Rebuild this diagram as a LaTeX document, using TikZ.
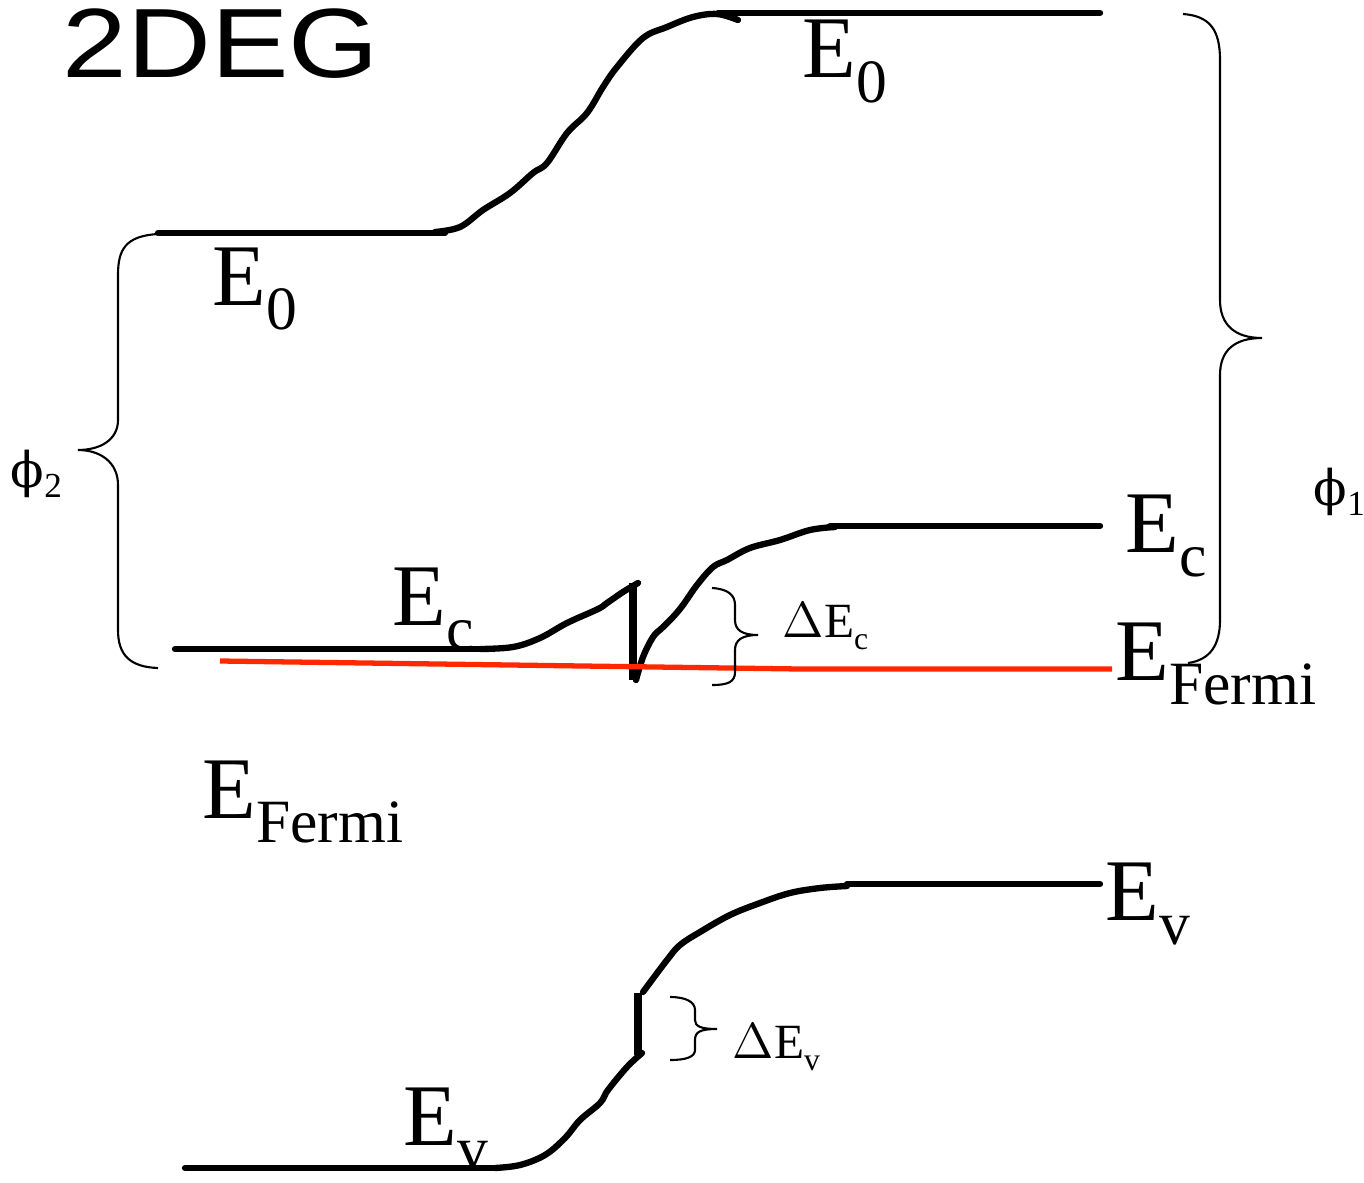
\documentclass[tikz,border=0pt]{standalone}
\usepackage{fontspec}
\setmainfont{Liberation Serif}
\newfontfamily\headfont{Liberation Sans}
\newfontfamily\phifont{DejaVu Serif}
\usetikzlibrary{positioning}
\definecolor{FermiRed}{RGB}{255,40,0}
\newcommand{\lvl}[2]{#1\raisebox{-7pt}{\fontsize{17.5}{17.5}\selectfont #2}}
\newcommand{\gaplvl}[1]{$\Delta$E\raisebox{-3.5pt}{\fontsize{9}{9}\selectfont #1}}
\newcommand{\wfn}[1]{{\phifont\char"03D5}\raisebox{-3pt}{\fontsize{10}{10}\selectfont #1}}
\tikzset{
  band/.style={line width=1.8pt,line join=round,line cap=round},
  jump/.style={line width=2.2pt},
  fermi/.style={draw=FermiRed,line width=1.5pt},
  brace/.style={line width=0.6pt},
  biglabel/.style={anchor=base west,inner sep=0pt,font=\fontsize{25}{25}\selectfont},
  smalllabel/.style={anchor=base west,inner sep=0pt,font=\fontsize{14}{14}\selectfont},
  headline/.style={anchor=base west,inner sep=0pt,font=\headfont\fontsize{28}{28}\selectfont}
}
\begin{document}
\begin{tikzpicture}[x=0.01cm,y=-0.01cm]
\useasboundingbox (0,0) rectangle (1364,1182);

% vacuum level
\draw[band] (158,233) -- (445,233);
\draw[band] plot[smooth,tension=0.6] coordinates {(435,232) (460,227) (483,210) (510,193) (533,173) (547,163) (567,133) (587,113) (603,87) (617,67) (643,38) (667,27) (693,17) (717,14) (738,20)};
\draw[band] (718,13) -- (1100,13);

% conduction band
\draw[band] (175,649) -- (492,649);
\draw[band] plot[smooth,tension=0.6] coordinates {(480,649) (513,647) (540,638) (567,623) (598,609) (607,603) (623,592) (638,583)};
\draw[jump] (633,583) -- (633,680);
\draw[band] plot[smooth,tension=0.6] coordinates {(636,680) (643,657) (653,637) (662,628) (673,617) (683,605) (697,585) (713,567) (727,560) (750,548) (780,540) (810,530) (835,527)};
\draw[band] (830,526) -- (1100,526);

% fermi level
\draw[fermi] (220,661) -- (800,669) -- (1112,669);

% valence band
\draw[band] (185,1168) -- (497,1168);
\draw[band] plot[smooth,tension=0.6] coordinates {(495,1168) (520,1165) (545,1155) (565,1138) (580,1120) (600,1103) (608,1090) (627,1067) (642,1053)};
\draw[jump] (638,1055) -- (638,993);
\draw[band] plot[smooth,tension=0.6] coordinates {(643,992) (667,960) (680,945) (700,932) (730,915) (760,903) (790,893) (820,888) (847,886)};
\draw[band] (847,884) -- (1100,884);

% braces
\draw[brace] (158,234) .. controls (125,236) and (118,250) .. (118,275) -- (118,420) .. controls (118,440) and (100,450) .. (78,450) .. controls (100,450) and (118,462) .. (118,485) -- (118,630) .. controls (118,655) and (130,667) .. (158,668);
\draw[brace] (1183,14) .. controls (1210,16) and (1220,30) .. (1220,60) -- (1220,300) .. controls (1220,325) and (1235,338) .. (1262,338) .. controls (1235,338) and (1220,350) .. (1220,375) -- (1220,620) .. controls (1220,645) and (1210,660) .. (1188,663);
\draw[brace] (712,588) .. controls (728,589) and (735,595) .. (735,605) -- (735,620) .. controls (735,630) and (742,635) .. (758,635) .. controls (742,635) and (735,640) .. (735,650) -- (735,672) .. controls (735,682) and (728,685) .. (712,685);
\draw[brace] (670,997) .. controls (686,997) and (695,1002) .. (695,1010) -- (695,1020) .. controls (695,1026) and (700,1029) .. (717,1029) .. controls (700,1029) and (695,1032) .. (695,1040) -- (695,1050) .. controls (695,1057) and (686,1060) .. (670,1060);

% labels
\node[headline] (title) at (62,78) {\scalebox{1.18}[1]{2DEG}};
\node[biglabel] (e0r) at (802,78) {\lvl{E}{0}};
\node[biglabel] (e0l) at (212,305) {\lvl{E}{0}};
\node[biglabel] (ecr) at (1125,552) {\lvl{E}{c}};
\node[biglabel] (efr) at (1115,680) {\lvl{E}{Fermi}};
\node[biglabel] (ecl) at (392,625) {\lvl{E}{c}};
\node[biglabel] (efl) at (202,818) {\lvl{E}{Fermi}};
\node[biglabel] (evl) at (403,1145) {\lvl{E}{v}};
\node[biglabel] (evr) at (1105,920) {\lvl{E}{v}};
\node[smalllabel] (dec) at (782,637) {\gaplvl{c}};
\node[smalllabel] (dev) at (732,1058) {\gaplvl{v}};
\node[smalllabel] (phi2) at (10,487) {\wfn{2}};
\node[smalllabel] (phi1) at (1313,505) {\wfn{1}};
\end{tikzpicture}
\end{document}
